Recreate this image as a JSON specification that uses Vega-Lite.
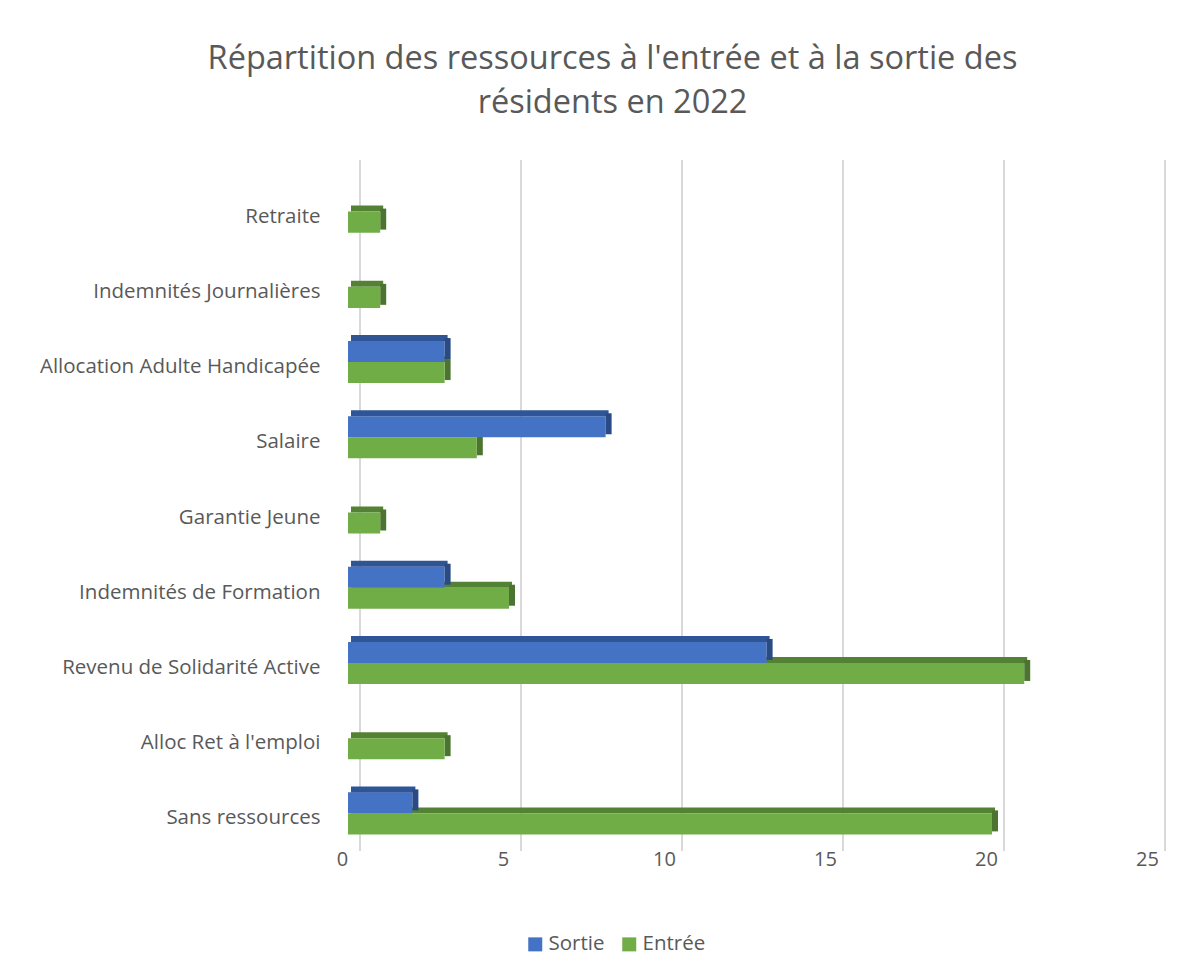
{
  "$schema": "https://vega.github.io/schema/vega-lite/v6.json",
  "autosize": "none",
  "width": 805,
  "height": 677,
  "padding": {"left": 348, "top": 174, "right": 51, "bottom": 125},
  "background": "white",
  "config": {"view": {"stroke": null}, "font": "Open Sans"},
  "title": {
    "text": ["Répartition des ressources à l'entrée et à la sortie des", "résidents en 2022"],
    "fontSize": 32.5,
    "font": "Open Sans",
    "fontWeight": "normal",
    "color": "#595959",
    "lineHeight": 44,
    "frame": "group",
    "anchor": "middle",
    "dx": -138,
    "offset": 40
  },
  "datasets": {
    "ressources": [
      {"ressource": "Retraite", "serie": "Sortie", "nombre": 0},
      {"ressource": "Retraite", "serie": "Entrée", "nombre": 1},
      {"ressource": "Indemnités Journalières", "serie": "Sortie", "nombre": 0},
      {"ressource": "Indemnités Journalières", "serie": "Entrée", "nombre": 1},
      {"ressource": "Allocation Adulte Handicapée", "serie": "Sortie", "nombre": 3},
      {"ressource": "Allocation Adulte Handicapée", "serie": "Entrée", "nombre": 3},
      {"ressource": "Salaire", "serie": "Sortie", "nombre": 8},
      {"ressource": "Salaire", "serie": "Entrée", "nombre": 4},
      {"ressource": "Garantie Jeune", "serie": "Sortie", "nombre": 0},
      {"ressource": "Garantie Jeune", "serie": "Entrée", "nombre": 1},
      {"ressource": "Indemnités de Formation", "serie": "Sortie", "nombre": 3},
      {"ressource": "Indemnités de Formation", "serie": "Entrée", "nombre": 5},
      {"ressource": "Revenu de Solidarité Active", "serie": "Sortie", "nombre": 13},
      {"ressource": "Revenu de Solidarité Active", "serie": "Entrée", "nombre": 21},
      {"ressource": "Alloc Ret à l'emploi", "serie": "Sortie", "nombre": 0},
      {"ressource": "Alloc Ret à l'emploi", "serie": "Entrée", "nombre": 3},
      {"ressource": "Sans ressources", "serie": "Sortie", "nombre": 2},
      {"ressource": "Sans ressources", "serie": "Entrée", "nombre": 20}
    ],
    "graduations": [{"v": 0}, {"v": 5}, {"v": 10}, {"v": 15}, {"v": 20}, {"v": 25}]
  },
  "layer": [
    {
      "data": {"name": "graduations"},
      "mark": {"type": "rule", "color": "#d9d9d9", "strokeWidth": 2, "xOffset": 12, "yOffset": -14, "y2Offset": -6},
      "encoding": {
        "x": {"field": "v", "type": "quantitative"}
      }
    },
    {
      "data": {"name": "ressources"},
      "transform": [{"filter": "datum.serie === 'Entrée' && datum.nombre > 0"}],
      "mark": {"type": "bar", "color": "#548235", "height": 6, "yOffset": -3, "xOffset": 3},
      "encoding": {
        "y": {"field": "ressource", "type": "nominal", "sort": null},
        "x": {"field": "nombre", "type": "quantitative"}
      }
    },
    {
      "data": {"name": "ressources"},
      "transform": [{"filter": "datum.serie === 'Entrée' && datum.nombre > 0"}],
      "mark": {"type": "tick", "color": "#4a742f", "thickness": 6, "size": 21, "yOffset": 7.5, "xOffset": 3, "opacity": 1},
      "encoding": {
        "y": {"field": "ressource", "type": "nominal", "sort": null},
        "x": {"field": "nombre", "type": "quantitative"}
      }
    },
    {
      "data": {"name": "ressources"},
      "mark": {"type": "bar"},
      "encoding": {
        "y": {
          "field": "ressource",
          "type": "nominal",
          "sort": null,
          "scale": {"paddingInner": 0.44, "paddingOuter": 0.22},
          "axis": {
            "title": null,
            "domain": false,
            "ticks": false,
            "labelPadding": 28,
            "labelLimit": 0,
            "labelOffset": 5,
            "labelFontSize": 20.5,
            "labelColor": "#595959",
            "labelFont": "Open Sans"
          }
        },
        "yOffset": {
          "field": "serie",
          "type": "nominal",
          "sort": ["Sortie", "Entrée"],
          "scale": {"paddingInner": 0}
        },
        "x": {
          "field": "nombre",
          "type": "quantitative",
          "scale": {"domain": [0, 25], "nice": false},
          "axis": {
            "title": null,
            "values": [0, 5, 10, 15, 20, 25],
            "domain": false,
            "ticks": false,
            "grid": false,
            "labelFlush": false,
            "labelOffset": -6,
            "labelPadding": -2,
            "labelFontSize": 20,
            "labelColor": "#595959",
            "labelFont": "Open Sans"
          }
        },
        "color": {
          "field": "serie",
          "type": "nominal",
          "scale": {"domain": ["Sortie", "Entrée"], "range": ["#4472c4", "#70ad47"]},
          "legend": {
            "title": null,
            "orient": "none",
            "direction": "horizontal",
            "legendX": 177,
            "legendY": 760,
            "symbolType": "square",
            "symbolSize": 196,
            "symbolStrokeWidth": 0,
            "labelFontSize": 20.5,
            "labelColor": "#595959",
            "labelFont": "Open Sans",
            "labelOffset": 3,
            "columnPadding": 14
          }
        }
      }
    },
    {
      "data": {"name": "ressources"},
      "transform": [{"filter": "datum.serie === 'Sortie' && datum.nombre > 0"}],
      "mark": {"type": "bar", "color": "#2f5597", "height": 6, "yOffset": -24, "xOffset": 3},
      "encoding": {
        "y": {"field": "ressource", "type": "nominal", "sort": null},
        "x": {"field": "nombre", "type": "quantitative"}
      }
    },
    {
      "data": {"name": "ressources"},
      "transform": [{"filter": "datum.serie === 'Sortie' && datum.nombre > 0"}],
      "mark": {"type": "tick", "color": "#2a4a84", "thickness": 6, "size": 21, "yOffset": -13.5, "xOffset": 3, "opacity": 1},
      "encoding": {
        "y": {"field": "ressource", "type": "nominal", "sort": null},
        "x": {"field": "nombre", "type": "quantitative"}
      }
    }
  ]
}
